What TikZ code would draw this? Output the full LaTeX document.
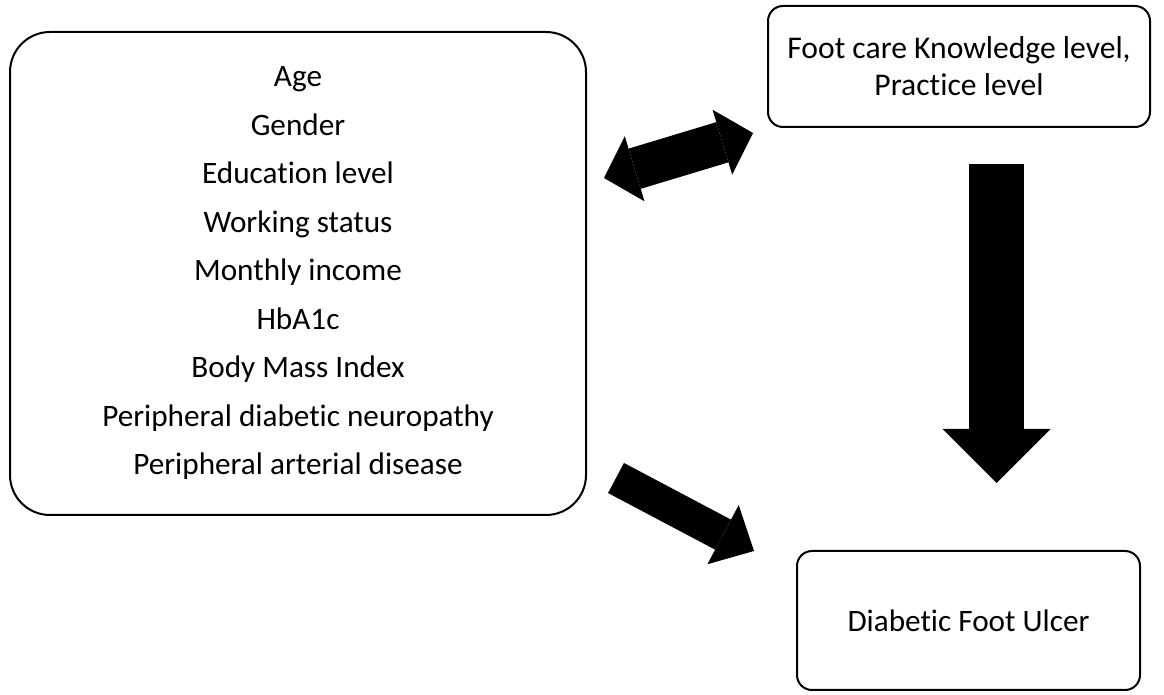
\documentclass[tikz,border=0pt]{standalone}
\usepackage{fontspec}
\setmainfont{Carlito}[Ligatures=NoCommon]
\usetikzlibrary{arrows.meta}

\begin{document}
\begin{tikzpicture}[x=0.5pt, y=-0.5pt,
    box/.style={draw, line width=1pt, align=center, inner sep=0pt},
    bodytext/.style={font=\fontsize{15.6}{24.25}\selectfont}]
    \useasboundingbox (0,0) rectangle (1164,695);
    \node[box, bodytext, rounded corners=20pt, minimum width=288pt, minimum height=241.5pt] (factors) at (298,273.5)
        {Age\\Gender\\Education level\\Working status\\Monthly income\\HbA1c\\Body Mass Index\\Peripheral diabetic neuropathy\\Peripheral arterial disease};
    \node[box, font=\fontsize{15.8}{18.5}\selectfont, rounded corners=7.5pt, minimum width=191pt, minimum height=60.5pt] (care) at (959,66.5)
        {Foot care Knowledge level,\\Practice level};
    \node[box, font=\fontsize{15.6}{18}\selectfont, rounded corners=7.5pt, minimum width=171.5pt, minimum height=69.5pt] (dfu) at (968.5,620.5)
        {Diabetic Foot Ulcer};
    % arrow ends
    \coordinate (link-a) at (604,178);
    \coordinate (link-b) at (753,133);
    \coordinate (risk-a) at (616,478);
    \coordinate (risk-b) at (754,551);
    \coordinate (care-a) at (996.5,164);
    \coordinate (care-b) at (996.5,483);
    \draw[line width=21pt, {Triangle[length=16pt,width=34pt,line width=0pt]}-{Triangle[length=16pt,width=34pt,line width=0pt]}] (link-a) -- (link-b); % both ways
    \draw[line width=17pt, -{Triangle[length=17.5pt,width=33.5pt,line width=0pt]}] (risk-a) -- (risk-b);
    \draw[line width=27.5pt, -{Triangle[length=27pt,width=54pt,line width=0pt]}] (care-a) -- (care-b);
\end{tikzpicture}
\end{document}
